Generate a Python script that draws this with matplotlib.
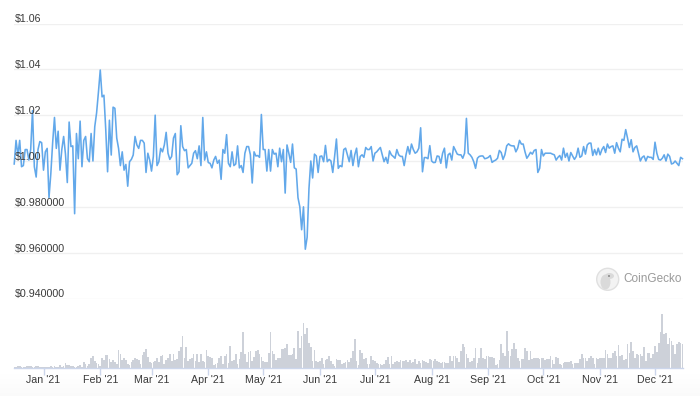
import numpy as np
import pandas as pd
import matplotlib
matplotlib.use("Agg")
import matplotlib.pyplot as plt
import matplotlib.dates as mdates
from matplotlib.patches import Circle, Ellipse

# daily price
price_a = [.9987, 1.009, 1.0026, 1.009, .9975, .998, 1.005, 1.005, 1.0004, 1.005, 1.022, .9975, .993, 1.005, 1.0085, 1.008,
           .996, 1.004, 1.0055, .984, .9945, 1.008, 1.019, 1.0055, 1.013, .996, 1.005, 1.0107, 1.003, .9906, 1.017, 1.0063,
           1.0066, .977, 1.012, 1.001, 1.0174, .9975, 1.009, 1.0107, 1.001, .9997, 1.012, 1.0, 1.015, 1.021, 1.03, 1.0397,
           1.028, 1.0287, 1.0137, .9953, 1.0178, 1.0026, 1.0235, 1.023, 1.01, 1.0055, .998, 1.004, .996, .9985, .989, .9997,
           1.0007, 1.0026, 1.0107, 1.007, 1.0055, 1.009, 1.009, 1.0078, .995, 1.0034, 1.0004, .9956, 1.002, 1.02, .998, .9997,
           1.0055, 1.004, 1.007, 1.0125, 1.0034, 1.0007, 1.002, 1.01, 1.012, .994, .9953, 1.0154, 1.0063, 1.0045, 1.005, .997,
           .998, .999, 1.0034, 1.0045, 1.001, 1.0066, .998, 1.019, 1.0004, 1.004, .9993, .999, .997, 1.0004, 1.002, .999,
           1.0004, .992, 1.005, 1.0034, 1.0115, .999, .9975, 1.004, .998, .9987, 1.0066, .997]
price_b = [.998, .995, 1.0034, 1.0063, 1.0063, 1.0027, .9904, 1.004, 1.0022, 1.0024, 1.0016, 1.0203, 1.005, 1.005, .9956, 1.005,
           .9956, 1.005, 1.003, 1.0034, .9975, 1.0056, .9997, 1.005, .986, 1.007, 1.0034, .9994, 1.0074, .997, .9965, .984,
           .98, .97, .98, .9615, .9667, .988, 1.0, .9926, 1.003, 1.0022, .995, 1.002, 1.0022, .9997, 1.0068, .9997, 1.0007,
           1.0, .995, 1.002, 1.0096, .9968, .998, .9975, 1.005, 1.0056, 1.0027, .9997, 1.0046, .998, 1.0027, 1.0056, .9975,
           1.002, 1.0027, 1.0016, 1.0059, 1.005, 1.005, 1.0063, 1.0, 1.0034, 1.004, 1.005, 1.0059, 1.0027, .9997, 1.0016, .999,
           1.0044, 1.0027, 1.002, 1.0012, 1.005, 1.0027, 1.002, 1.002, .998, 1.0027, 1.0063, 1.003, 1.0074, 1.005, 1.0034,
           1.004, 1.0056, 1.0145, .9953, 1.0015, 1.0015, 1.001, 1.0067, 1.0, .9993, .9994, 1.0022, 1.002, .999, 1.0034, 1.0056,
           .997, 1.0027, 1.0034, 1.0004, 1.0063, 1.0046, 1.003, 1.0027, 1.0027, 1.0012, 1.0034, 1.0186, 1.0034]
price_c = [1.0027, 1.0016, .9997, .9968, 1.0012, 1.002, 1.0022, 1.0022, 1.001, 1.0012, 1.0016, 1.0024, .9994, 1.0, 1.0004, 1.0012,
           1.0046, 1.0037, 1.0007, 1.0027, 1.0066, 1.0075, 1.0068, 1.0066, 1.0066, 1.004, 1.0056, 1.009, 1.0074, 1.0074, 1.004,
           1.0012, 1.0024, 1.0038, 1.003, 1.0046, 1.005, .995, .9968, 1.005, 1.0022, 1.0034, 1.0034, 1.0034, 1.0034, 1.003,
           1.0027, 1.0004, 1.0016, 1.0024, 1.0004, 1.0056, 1.0016, 1.0034, 1.0, 1.0037, 1.0022, 1.0007, 1.002, 1.0056, 1.0016,
           1.0022, 1.0063, 1.003, 1.007, 1.0078, 1.0078, 1.0024, 1.005, 1.0027, 1.0056, 1.0027, 1.005, 1.0063, 1.0037, 1.0074,
           1.0056, 1.0063, 1.0066, 1.0034, 1.008, 1.0056, 1.004, 1.0095, 1.009, 1.0137, 1.01, 1.0059, 1.0093, 1.004, 1.0059,
           1.0066, 1.0034, 1.0, 1.0016, 1.0022, 1.0, 1.002, 1.0016, 1.0016, 1.0007, 1.0082, 1.0034, 1.0007, 1.0004, 1.0012,
           1.0027, 1.0, 1.003, 1.002, .9987, .999, 1.0, .999, .998, 1.0016, 1.001]
price = price_a + price_b + price_c

# daily volume, month by month, same relative units as the bars in the picture
vol_dec = [1, 2, 6, 4, 2, 1, 2, 5, 6, 5, 3, 2, 4, 6, 3, 2]
vol_jan = [1, 1, 1, 3, 4, 2, 6, 3, 2, 8, 3, 5, 14, 8, 7, 6, 5, 3, 1, 6, 8, 3, 18, 10, 5, 12, 28, 34, 20, 14, 12]
vol_feb = [6, 30, 22, 38, 38, 25, 16, 22, 18, 12, 52, 42, 22, 28, 24, 10, 8, 18, 22, 30, 26, 22, 12, 38, 48, 56, 32, 18]
vol_mar = [14, 18, 20, 30, 18, 34, 38, 10, 24, 28, 42, 20, 40, 22, 26, 50, 62, 96, 30, 62, 20, 25, 28, 42, 20, 40, 18, 42, 20, 18, 52]
vol_apr = [35, 32, 28, 8, 12, 14, 30, 34, 10, 36, 42, 14, 66, 20, 22, 40, 12, 25, 48, 108, 40, 18, 46, 50, 20, 33, 50, 52, 40, 32]
vol_may = [20, 18, 16, 45, 108, 50, 42, 22, 28, 30, 55, 55, 60, 70, 38, 38, 40, 60, 25, 110, 60, 95, 135, 100, 118, 75, 62, 20, 52, 20, 18]
vol_jun = [20, 28, 10, 22, 26, 36, 20, 10, 5, 25, 22, 22, 10, 14, 18, 24, 18, 30, 50, 85, 20, 8, 52, 45, 25, 28, 10, 10, 35, 22]
vol_jul = [20, 15, 12, 10, 8, 10, 22, 32, 12, 34, 10, 18, 20, 18, 22, 20, 20, 22, 18, 22, 15, 18, 25, 12, 20, 15, 22, 20, 18, 15, 25]
vol_aug = [22, 20, 26, 20, 18, 15, 18, 18, 14, 15, 34, 20, 34, 36, 30, 16, 50, 72, 62, 40, 28, 18, 20, 30, 60, 15, 30, 60, 28, 25, 35]
vol_sep = [35, 33, 33, 28, 8, 12, 22, 72, 45, 35, 110, 50, 35, 55, 75, 55, 30, 20, 25, 26, 60, 50, 22, 50, 25, 30, 30, 28, 25, 30]
vol_oct = [30, 22, 25, 25, 35, 22, 10, 32, 28, 10, 8, 15, 18, 17, 18, 20, 10, 14, 15, 14, 25, 40, 30, 28, 20, 28, 35, 30, 10, 30, 26]
vol_nov = [28, 30, 28, 52, 40, 30, 28, 45, 50, 35, 68, 35, 38, 22, 25, 70, 45, 78, 50, 28, 40, 38, 40, 35, 62, 20, 45, 45, 30, 42]
vol_dec2 = [65, 48, 75, 108, 162, 100, 105, 70, 90, 80, 68, 40, 72, 76, 74, 72]
volume = vol_dec + vol_jan + vol_feb + vol_mar + vol_apr + vol_may + vol_jun + vol_jul + vol_aug + vol_sep + vol_oct + vol_nov + vol_dec2

price_ticks = [1.06, 1.04, 1.02, 1.00, 0.98, 0.96, 0.94]
price_labels = ["$1.06", "$1.04", "$1.02", "$1.00", "$0.980000", "$0.960000", "$0.940000"]

price_dates = pd.date_range("2020-12-16", periods=len(price), freq="D")
vol_dates = pd.date_range("2020-12-16", periods=len(volume), freq="D")

W, H = 700, 396
plt.rcParams["font.family"] = ["Liberation Sans", "DejaVu Sans"]
fig = plt.figure(figsize=(W / 100, H / 100), dpi=100, facecolor="white")


def px_axes(left, top, right, bottom):
    return fig.add_axes([left / W, 1 - bottom / H, (right - left) / W, (bottom - top) / H])


# page backdrop with the faint grey fade at the bottom, and the logo
bg = fig.add_axes([0, 0, 1, 1], zorder=0)
bg.axis("off")
fade = np.linspace(0, 1, 40).reshape(-1, 1)
bg.imshow(fade, extent=[0, W, 396, 372], cmap="Greys", vmin=0, vmax=25, aspect="auto")
bg.set_xlim(0, W)
bg.set_ylim(H, 0)

bg.add_patch(Circle((607.7, 279.3), 11, fc="#f3f3f3", ec="#e0e0e0", lw=1))
bg.add_patch(Ellipse((605.5, 282), 10, 15, fc="#dadada", ec="none"))
bg.add_patch(Ellipse((609.5, 276), 9, 6, fc="#dadada", ec="none"))
bg.add_patch(Circle((609, 276), 1, fc="#8a8a8a", ec="none"))
bg.text(623, 279.5, "CoinGecko", fontsize=8.5, color="#9a9a9a", va="center", ha="left")

# x axis is fixed so that 1 Jan and 1 Dec land under their ticks
x_jan = mdates.date2num(pd.Timestamp("2021-01-01"))
x_dec = mdates.date2num(pd.Timestamp("2021-12-01"))
per_px = (x_dec - x_jan) / (655 - 43.5)
xlim = (x_jan - (43.5 - 14) * per_px, x_jan + (683 - 43.5) * per_px)

# price panel
ax = px_axes(14, 23.5, 683, 298.5)
ax.set_zorder(2)
ax.patch.set_alpha(0)
ax.set_xlim(xlim)
ax.set_ylim(0.94, 1.06)
for s in ax.spines.values():
    s.set_visible(False)
ax.set_xticks([])
ax.set_yticks(price_ticks)
ax.tick_params(left=False, labelleft=False)
ax.grid(axis="y", color="#f0f0f0", lw=1)
ax.set_axisbelow(True)
ax.plot(price_dates, price, color="#62a8ea", lw=1.15, solid_joinstyle="round", clip_on=False)
for v, lab in zip(price_ticks, price_labels):
    ax.annotate(lab, (0, v), xycoords=("axes fraction", "data"), xytext=(0.5, -0.7), textcoords="offset points",
                fontsize=7.7, color="#3a3a3a", va="bottom", ha="left")

# volume panel
ax2 = px_axes(14, 300, 683, 367.5)
ax2.set_zorder(1)
ax2.patch.set_alpha(0)
ax2.set_xlim(xlim)
ax2.set_ylim(0, 202.5)
ax2.bar(vol_dates, volume, width=0.92, color="#cdd1d9", linewidth=0)
for name in ["top", "left", "right"]:
    ax2.spines[name].set_visible(False)
ax2.spines["bottom"].set_color("#ccd6eb")
ax2.spines["bottom"].set_linewidth(1)
ax2.set_yticks([])
ax2.xaxis.set_major_locator(mdates.MonthLocator())
ax2.xaxis.set_major_formatter(mdates.DateFormatter("%b '%y"))
ax2.set_xlim(xlim)
ax2.tick_params(axis="x", color="#ccd6eb", length=4.7, width=1, labelsize=7.7, labelcolor="#3a3a3a", pad=0.5)

fig.savefig("out.png", dpi=100)
